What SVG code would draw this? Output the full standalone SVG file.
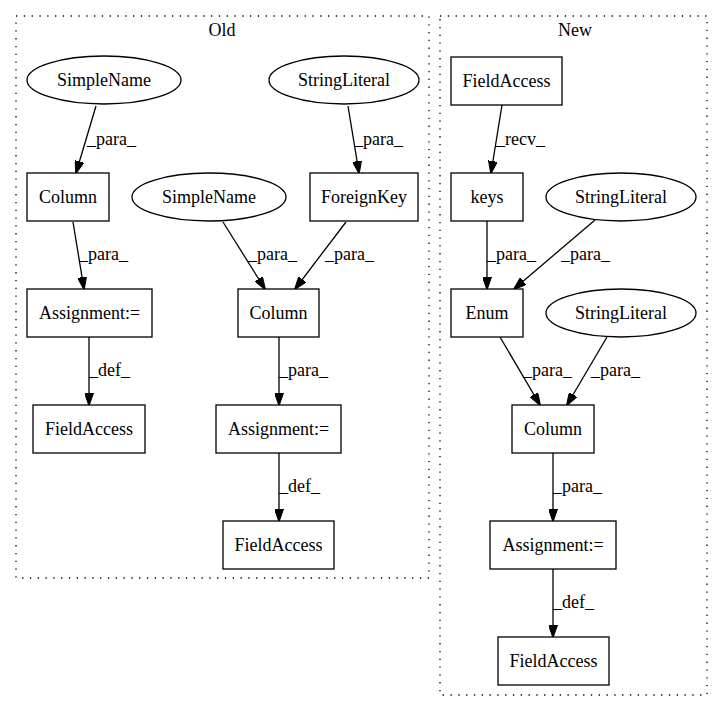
<svg xmlns="http://www.w3.org/2000/svg" width="723" height="712" viewBox="0 0 723 712">
<style>
text{font-family:"Liberation Serif","Times New Roman",serif;font-size:18px;fill:#000}
.n{text-anchor:middle}
.box{fill:#fff;stroke:#000;stroke-width:1.3}
.cl{fill:none;stroke:#000;stroke-width:1.3;stroke-dasharray:1.3,6.5}
.e{fill:none;stroke:#000;stroke-width:1.3;marker-end:url(#ah)}
</style>
<defs>
<marker id="ah" viewBox="0 0 13 9" refX="12" refY="4.5" markerWidth="13" markerHeight="9" markerUnits="userSpaceOnUse" orient="auto">
<path d="M0,0 L13,4.5 L0,9 z" fill="#000" stroke="#000" stroke-width="1"/>
</marker>
</defs>
<rect width="723" height="712" fill="#fff"/>
<g id="cluster_old">
<rect class="cl" x="16" y="16" width="413" height="562"/>
<text class="n" x="222" y="36">Old</text>
</g>
<g id="cluster_new">
<rect class="cl" x="440" y="16" width="267" height="679"/>
<text class="n" x="575" y="36">New</text>
</g>
<g id="connectors">
<path class="e" d="M96,106 L76,173"/>
<text x="87" y="145">_para_</text>
<path class="e" d="M348,106 L359,173"/>
<text x="354" y="145">_para_</text>
<path class="e" d="M73,222 L84,289"/>
<text x="79" y="260">_para_</text>
<path class="e" d="M223,222 L265,289"/>
<text x="248" y="260">_para_</text>
<path class="e" d="M346,222 L295,289"/>
<text x="325" y="260">_para_</text>
<path class="e" d="M89,337 L89,405"/>
<text x="89" y="376">_def_</text>
<path class="e" d="M279,337 L279,405"/>
<text x="279" y="376">_para_</text>
<path class="e" d="M279,453 L279,521"/>
<text x="279" y="492">_def_</text>
<path class="e" d="M502,105 L491,173"/>
<text x="496" y="145">_recv_</text>
<path class="e" d="M487,221 L487,289"/>
<text x="487" y="260">_para_</text>
<path class="e" d="M595,220 L514,289"/>
<text x="561" y="260">_para_</text>
<path class="e" d="M500,337 L540,405"/>
<text x="523" y="376">_para_</text>
<path class="e" d="M607,337 L567,405"/>
<text x="591" y="376">_para_</text>
<path class="e" d="M553,453 L553,521"/>
<text x="553" y="492">_para_</text>
<path class="e" d="M553,569 L553,637"/>
<text x="553" y="608">_def_</text>
</g>
<g id="old_simplename1"><ellipse class="box" cx="104" cy="80" rx="77" ry="24"/><text class="n" x="104" y="86">SimpleName</text></g>
<g id="old_stringliteral"><ellipse class="box" cx="344" cy="80" rx="75" ry="24"/><text class="n" x="344" y="86">StringLiteral</text></g>
<g id="old_column1"><rect class="box" x="27" y="173" width="82" height="48"/><text class="n" x="68" y="203">Column</text></g>
<g id="old_simplename2"><ellipse class="box" cx="209" cy="197" rx="77" ry="24"/><text class="n" x="209" y="203">SimpleName</text></g>
<g id="old_foreignkey"><rect class="box" x="310" y="173" width="108" height="48"/><text class="n" x="364" y="203">ForeignKey</text></g>
<g id="old_assignment1"><rect class="box" x="27" y="289" width="125" height="48"/><text class="n" x="89.5" y="319">Assignment:=</text></g>
<g id="old_column2"><rect class="box" x="238" y="289" width="81" height="48"/><text class="n" x="278.5" y="319">Column</text></g>
<g id="old_fieldaccess1"><rect class="box" x="33" y="405" width="112" height="48"/><text class="n" x="89" y="435">FieldAccess</text></g>
<g id="old_assignment2"><rect class="box" x="216" y="405" width="125" height="48"/><text class="n" x="278.5" y="435">Assignment:=</text></g>
<g id="old_fieldaccess2"><rect class="box" x="223" y="521" width="111" height="48"/><text class="n" x="278.5" y="551">FieldAccess</text></g>
<g id="new_fieldaccess1"><rect class="box" x="451" y="57" width="111" height="48"/><text class="n" x="506.5" y="87">FieldAccess</text></g>
<g id="new_keys"><rect class="box" x="451" y="173" width="72" height="48"/><text class="n" x="487" y="203">keys</text></g>
<g id="new_stringliteral1"><ellipse class="box" cx="621" cy="197" rx="75" ry="24"/><text class="n" x="621" y="203">StringLiteral</text></g>
<g id="new_enum"><rect class="box" x="451" y="289" width="72" height="48"/><text class="n" x="487" y="319">Enum</text></g>
<g id="new_stringliteral2"><ellipse class="box" cx="621" cy="313" rx="75" ry="24"/><text class="n" x="621" y="319">StringLiteral</text></g>
<g id="new_column"><rect class="box" x="512" y="405" width="82" height="48"/><text class="n" x="553" y="435">Column</text></g>
<g id="new_assignment"><rect class="box" x="490" y="521" width="126" height="48"/><text class="n" x="553" y="551">Assignment:=</text></g>
<g id="new_fieldaccess2"><rect class="box" x="498" y="637" width="111" height="48"/><text class="n" x="553.5" y="667">FieldAccess</text></g>
</svg>
